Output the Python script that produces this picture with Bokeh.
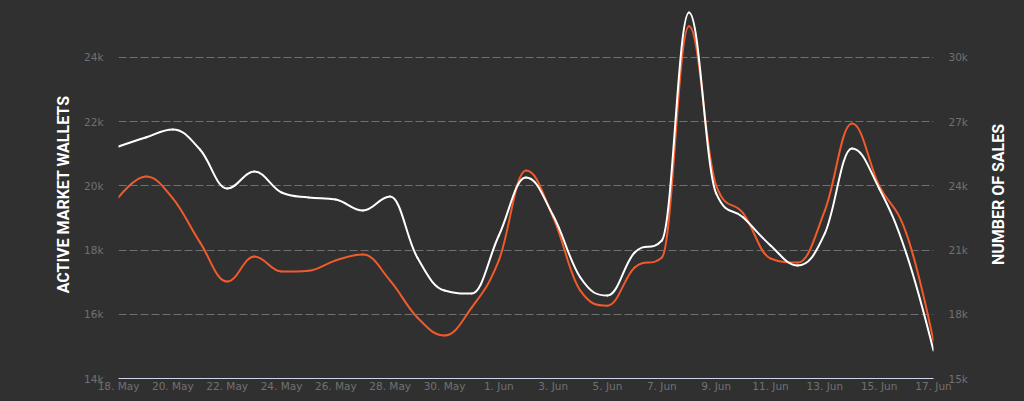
import math
from bokeh.plotting import figure
from bokeh.layouts import row
from bokeh.models import Range1d, LinearAxis, FixedTicker
from bokeh.embed import file_html
from bokeh.resources import INLINE

# ---- data ----
day_index = list(range(31))  # 18 May .. 17 Jun
tick_positions = [0, 2, 4, 6, 8, 10, 12, 14, 16, 18, 20, 22, 24, 26, 28, 30]
tick_labels = ["18. May", "20. May", "22. May", "24. May", "26. May", "28. May", "30. May",
               "1. Jun", "3. Jun", "5. Jun", "7. Jun", "9. Jun", "11. Jun", "13. Jun", "15. Jun", "17. Jun"]

active_wallets = [19640, 20290, 19610, 18240, 17020, 17800, 17330, 17360, 17680, 17860, 17050,
                  15900, 15340, 16210, 17680, 20480, 19020, 16740, 16270, 17460, 17770,
                  24970, 20010, 19140, 17740, 17610, 19230, 21940, 20010, 18520, 15180]
number_of_sales = [25840, 26260, 26640, 25700, 23880, 24670, 23690, 23460, 23360, 22850, 23500,
                   20650, 19110, 18970, 21680, 24390, 22620, 19720, 18880, 20890, 21450,
                   32100, 23650, 22520, 21220, 20280, 21780, 25750, 23880, 20840, 16310]

left_ticks = [14000, 16000, 18000, 20000, 22000, 24000]
left_labels = ["14k", "16k", "18k", "20k", "22k", "24k"]
right_ticks = [15000, 18000, 21000, 24000, 27000, 30000]
right_labels = ["15k", "18k", "21k", "24k", "27k", "30k"]

BG = "#303030"
RED = "#f15a2b"
WHITE = "#ffffff"
GRID = "#707070"
LABEL = "#707070"


def spline_segments(xs, ys, smoothing=1.5):
    n = len(xs)
    lc, rc = [], []
    for i in range(n):
        x, y = xs[i], ys[i]
        if i == 0 or i == n - 1:
            lc.append((x, y)); rc.append((x, y)); continue
        lx, ly = xs[i - 1], ys[i - 1]
        nx, ny = xs[i + 1], ys[i + 1]
        d = smoothing + 1
        lcx = (smoothing * x + lx) / d; lcy = (smoothing * y + ly) / d
        rcx = (smoothing * x + nx) / d; rcy = (smoothing * y + ny) / d
        if rcx != lcx:
            corr = ((rcy - lcy) * (rcx - x)) / (rcx - lcx) + y - rcy
            lcy += corr; rcy += corr
        if lcy > ly and lcy > y:
            lcy = max(ly, y); rcy = 2 * y - lcy
        elif lcy < ly and lcy < y:
            lcy = min(ly, y); rcy = 2 * y - lcy
        if rcy > ny and rcy > y:
            rcy = max(ny, y); lcy = 2 * y - rcy
        elif rcy < ny and rcy < y:
            rcy = min(ny, y); lcy = 2 * y - rcy
        lc.append((lcx, lcy)); rc.append((rcx, rcy))
    seg = dict(x0=[], y0=[], x1=[], y1=[], cx0=[], cy0=[], cx1=[], cy1=[])
    for i in range(1, n):
        seg["x0"].append(xs[i - 1]); seg["y0"].append(ys[i - 1])
        seg["x1"].append(xs[i]); seg["y1"].append(ys[i])
        seg["cx0"].append(rc[i - 1][0]); seg["cy0"].append(rc[i - 1][1])
        seg["cx1"].append(lc[i][0]); seg["cy1"].append(lc[i][1])
    return seg


p = figure(width=984, height=401, output_backend="svg", toolbar_location=None,
           x_range=Range1d(0, 30), y_range=Range1d(14000, 25464),
           min_border_left=118, min_border_right=51, min_border_top=10, min_border_bottom=23,
           background_fill_color=BG, border_fill_color=BG, outline_line_color=BG,
           styles={"background-color": BG})
p.outline_line_width = 3
p.extra_y_ranges = {"right": Range1d(15000, 32196)}

# axes
p.xaxis.ticker = FixedTicker(ticks=tick_positions)
p.xaxis.major_label_overrides = {t: l for t, l in zip(tick_positions, tick_labels)}
p.xaxis.axis_line_color = "#ccd6eb"
p.xaxis.axis_line_width = 1
p.xaxis.major_tick_line_color = None
p.xaxis.minor_tick_line_color = None
p.xaxis.major_tick_out = 0
p.xaxis.major_label_standoff = 1
p.xaxis.major_label_text_color = LABEL
p.xaxis.major_label_text_font = "DejaVu Sans"
p.xaxis.major_label_text_font_size = "10.5px"

p.yaxis.ticker = FixedTicker(ticks=left_ticks)
p.yaxis.major_label_overrides = {t: l for t, l in zip(left_ticks, left_labels)}

ra = LinearAxis(y_range_name="right", ticker=FixedTicker(ticks=right_ticks))
ra.major_label_overrides = {t: l for t, l in zip(right_ticks, right_labels)}
p.add_layout(ra, "right")

for ax in (p.yaxis[0], ra):
    ax.axis_line_color = None
    ax.major_tick_line_color = None
    ax.minor_tick_line_color = None
    ax.major_tick_out = 0
    ax.major_label_standoff = 15
    ax.major_label_text_color = LABEL
    ax.major_label_text_font = "DejaVu Sans"
    ax.major_label_text_font_size = "10.5px"


def style_title(ax, title, standoff):
    ax.axis_label = title
    ax.axis_label_text_color = WHITE
    ax.axis_label_text_font = "Roboto"
    ax.axis_label_text_font_style = "bold"
    ax.axis_label_text_font_size = "16px"
    ax.axis_label_standoff = standoff


style_title(p.yaxis[0], "ACTIVE MARKET WALLETS", 8)

p.xgrid.grid_line_color = None
p.ygrid.grid_line_color = GRID
p.ygrid.grid_line_dash = "8 3"
p.ygrid.grid_line_width = 1

seg_red = spline_segments(day_index, active_wallets)
p.bezier(x0="x0", y0="y0", x1="x1", y1="y1", cx0="cx0", cy0="cy0", cx1="cx1", cy1="cy1",
         source=seg_red, line_color=RED, line_width=2, line_cap="round")
seg_white = spline_segments(day_index, number_of_sales)
p.bezier(x0="x0", y0="y0", x1="x1", y1="y1", cx0="cx0", cy0="cy0", cx1="cx1", cy1="cy1",
         source=seg_white, line_color=WHITE, line_width=2, line_cap="round", y_range_name="right")

# narrow strip on the right carrying the "NUMBER OF SALES" title (reads bottom-to-top)
p2 = figure(width=40, height=401, output_backend="svg", toolbar_location=None,
            x_range=Range1d(0, 1), y_range=Range1d(0, 1),
            min_border_left=38, min_border_right=1, min_border_top=10, min_border_bottom=23,
            background_fill_color=BG, border_fill_color=BG, outline_line_color=BG,
            styles={"background-color": BG})
p2.outline_line_width = 3
p2.xaxis.visible = False
p2.xgrid.visible = False
p2.ygrid.visible = False
t_ax = p2.yaxis[0]
t_ax.ticker = FixedTicker(ticks=[])
t_ax.axis_line_color = None
t_ax.major_tick_line_color = None
t_ax.minor_tick_line_color = None
t_ax.major_tick_out = 0
t_ax.major_label_standoff = 0
style_title(t_ax, "NUMBER OF SALES", 15)

layout = row(p, p2, styles={"background-color": BG})

html = file_html(layout, INLINE)
html = html.replace("<body>", '<body style="background:#303030">', 1)
open("out.html", "w").write(html)
